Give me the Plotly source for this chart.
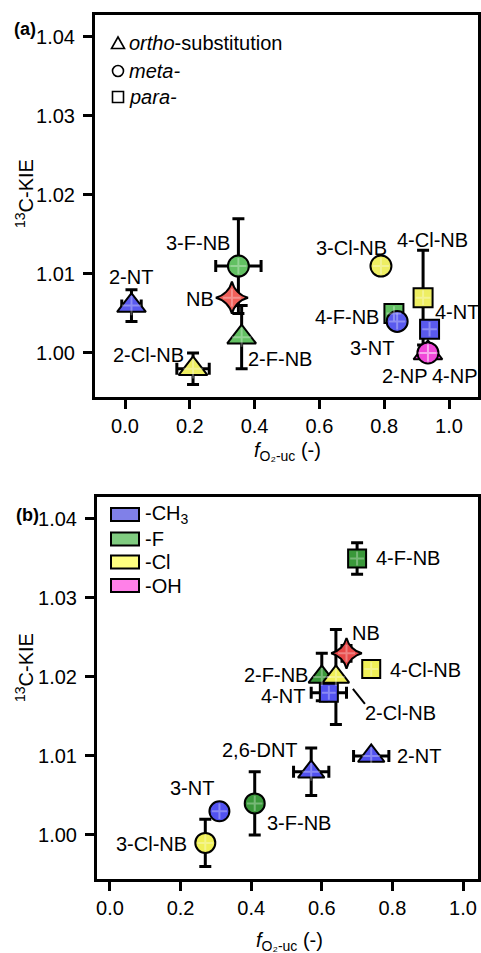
import plotly.graph_objects as go

W, H = 481, 953
FONT = "Liberation Sans, Arial, Helvetica, sans-serif"
FS = 20

# ---------------- data: panel (a) ----------------
names_a = ["2-NT", "2-Cl-NB", "3-F-NB", "2-F-NB", "NB", "3-Cl-NB",
           "4-F-NB", "3-NT", "4-Cl-NB", "4-NT", "2-NP", "4-NP"]
f_a = [0.02, 0.21, 0.35, 0.36, 0.33, 0.79, 0.83, 0.84, 0.92, 0.94, 0.935, 0.935]
kie_a = [1.006, 0.998, 1.011, 1.002, 1.007, 1.011, 1.005, 1.004, 1.007, 1.003, 1.000, 1.000]
f_err_a = [0.03, 0.05, 0.07, 0.0, 0.0, 0.0, 0.0, 0.0, 0.0, 0.0, 0.0, 0.0]
kie_err_a = [0.002, 0.002, 0.006, 0.004, 0.0, 0.0, 0.0, 0.0, 0.006, 0.0, 0.001, 0.0]
shape_a = ["ortho", "ortho", "meta", "ortho", "none", "meta",
           "para", "meta", "para", "para", "ortho", "meta"]
group_a = ["CH3", "Cl", "F", "F", "H", "Cl", "F", "CH3", "Cl", "CH3", "OH", "OH"]

# ---------------- data: panel (b) ----------------
names_b = ["4-F-NB", "2-F-NB", "2-Cl-NB", "4-NT", "NB", "4-Cl-NB",
           "2-NT", "2,6-DNT", "3-F-NB", "3-NT", "3-Cl-NB"]
f_b = [0.70, 0.60, 0.64, 0.62, 0.67, 0.74, 0.74, 0.57, 0.41, 0.31, 0.27]
kie_b = [1.035, 1.020, 1.020, 1.018, 1.023, 1.021, 1.010, 1.008, 1.004, 1.003, 0.999]
f_err_b = [0.0, 0.0, 0.0, 0.05, 0.0, 0.0, 0.05, 0.05, 0.0, 0.0, 0.0]
kie_err_b = [0.002, 0.003, 0.006, 0.001, 0.001, 0.0, 0.0, 0.003, 0.004, 0.0, 0.003]
shape_b = ["para", "ortho", "ortho", "para", "none", "para",
           "ortho", "ortho", "meta", "meta", "meta"]
group_b = ["F", "F", "Cl", "CH3", "H", "Cl", "CH3", "CH3", "F", "CH3", "Cl"]

# tick labels
x_ticks = [0.0, 0.2, 0.4, 0.6, 0.8, 1.0]
x_ticktext = ["0.0", "0.2", "0.4", "0.6", "0.8", "1.0"]
y_ticks = [1.00, 1.01, 1.02, 1.03, 1.04]
y_ticktext = ["1.00", "1.01", "1.02", "1.03", "1.04"]

legend_a = ["<i>ortho</i>-substitution", "<i>meta-</i>", "<i>para-</i>"]
legend_b = ["-CH<sub>3</sub>", "-F", "-Cl", "-OH"]

# ---------------- styles ----------------
SYMBOL = {"ortho": "triangle-up", "meta": "circle", "para": "square", "none": "star-diamond"}
SIZE_A = {"ortho": 25, "meta": 21, "para": 19, "none": 23}
SIZE_B = {"ortho": 23, "meta": 20, "para": 18, "none": 22}
COLOR_A = {"CH3": "#5A5AEE", "F": "#62C062", "Cl": "#EEEE62", "OH": "#F048D8", "H": "#F0605A"}
COLOR_B = {"CH3": "#5252F0", "F": "#3A983A", "Cl": "#F0F058", "OH": "#F048D8", "H": "#E84848"}
LEG_B_COLORS = ["#8080E8", "#80CC80", "#FFFF80", "#FF80E8"]

# label offsets (pixels, right / down) from the marker centre
OFF_A = {"2-NT": (0, -29), "3-F-NB": (-40, -23), "NB": (-32, 1), "2-Cl-NB": (-45, -14),
         "2-F-NB": (38, 22), "3-Cl-NB": (-29, -18), "4-Cl-NB": (9, -58), "4-F-NB": (-47, 4),
         "4-NT": (27, -17), "3-NT": (-25, 27), "2-NP": (-23, 23), "4-NP": (27, 23)}
OFF_B = {"4-F-NB": (51, 0), "NB": (19, -20), "2-F-NB": (-46, -2), "2-Cl-NB": (65, 36),
         "4-NT": (-46, 3), "4-Cl-NB": (54, 1), "2-NT": (48, 0), "2,6-DNT": (-51, -22),
         "3-F-NB": (44, 20), "3-NT": (-27, -23), "3-Cl-NB": (-54, 1)}


def pxx(p):
    return p / W


def pxy(p):
    return 1 - p / H


def scatter(xs, ys, exs, eys, shapes, groups, sizes, colors, xa, ya):
    return go.Scatter(
        x=xs, y=ys, mode="markers", xaxis=xa, yaxis=ya, showlegend=False,
        marker=dict(symbol=[SYMBOL[s] for s in shapes],
                    size=[sizes[s] for s in shapes],
                    color=[colors[g] for g in groups],
                    line=dict(color="black", width=2), opacity=1),
        error_x=dict(type="data", array=exs, visible=True, color="black",
                     thickness=3, width=6),
        error_y=dict(type="data", array=eys, visible=True, color="black",
                     thickness=3, width=6),
    )


def cross_overlay(xs, ys, shapes, sizes, xa, ya):
    # faint "+" pattern drawn inside every marker, as in the original figure
    return go.Scatter(
        x=xs, y=ys, mode="markers", xaxis=xa, yaxis=ya, showlegend=False, hoverinfo="skip",
        marker=dict(symbol="cross-thin", size=[sizes[s] * 0.55 for s in shapes],
                    color="rgba(0,0,0,0)",
                    line=dict(color="rgba(255,255,255,0.45)", width=2)),
    )


fig = go.Figure()
fig.add_trace(scatter(f_a, kie_a, f_err_a, kie_err_a, shape_a, group_a, SIZE_A, COLOR_A, "x", "y"))
fig.add_trace(cross_overlay(f_a, kie_a, shape_a, SIZE_A, "x", "y"))
fig.add_trace(scatter(f_b, kie_b, f_err_b, kie_err_b, shape_b, group_b, SIZE_B, COLOR_B, "x2", "y2"))
fig.add_trace(cross_overlay(f_b, kie_b, shape_b, SIZE_B, "x2", "y2"))


def xaxis(domain, rng, anchor):
    return dict(domain=domain, range=rng, anchor=anchor, tickvals=x_ticks, ticktext=x_ticktext,
                ticks="outside", ticklen=9, tickwidth=3, tickcolor="black",
                showline=True, linewidth=3, linecolor="black", mirror=True,
                showgrid=False, zeroline=False,
                tickfont=dict(family=FONT, size=FS, color="black"))


def yaxis(domain, rng, anchor):
    return dict(domain=domain, range=rng, anchor=anchor, tickvals=y_ticks, ticktext=y_ticktext,
                ticks="outside", ticklen=9, tickwidth=3, tickcolor="black",
                showline=True, linewidth=3, linecolor="black", mirror=True,
                showgrid=False, zeroline=False, ticklabelstandoff=4,
                tickfont=dict(family=FONT, size=FS, color="black"))


annotations = []
shapes = []

# data labels
for names, xs, ys, offs, xr, yr in [(names_a, f_a, kie_a, OFF_A, "x", "y"),
                                   (names_b, f_b, kie_b, OFF_B, "x2", "y2")]:
    for n, xv, yv in zip(names, xs, ys):
        dx, dy = offs[n]
        annotations.append(dict(x=xv, y=yv, xref=xr, yref=yr, text=n, showarrow=False,
                                xshift=dx, yshift=-dy,
                                font=dict(family=FONT, size=FS, color="black")))

# leader line for 2-Cl-NB in (b)
i = names_b.index("2-Cl-NB")
shapes.append(dict(type="line", xref="x2", yref="y2",
                   xsizemode="pixel", xanchor=f_b[i], x0=17, x1=29,
                   ysizemode="pixel", yanchor=kie_b[i], y0=-12, y1=-27,
                   line=dict(color="black", width=2)))

# panel letters
annotations.append(dict(x=pxx(12), y=pxy(29), xref="paper", yref="paper", text="<b>(a)</b>",
                        showarrow=False, xanchor="left", yanchor="middle",
                        font=dict(family=FONT, size=18, color="black")))
annotations.append(dict(x=pxx(14), y=pxy(515), xref="paper", yref="paper", text="<b>(b)</b>",
                        showarrow=False, xanchor="left", yanchor="middle",
                        font=dict(family=FONT, size=18, color="black")))

# axis titles
for yc in (194, 668):
    annotations.append(dict(x=pxx(24), y=pxy(yc), xref="paper", yref="paper",
                            text="<sup>13</sup>C-KIE", textangle=-90, showarrow=False,
                            xanchor="center", yanchor="middle",
                            font=dict(family=FONT, size=FS, color="black")))
for xc, yc in ((287, 452), (289, 941)):
    annotations.append(dict(x=pxx(xc), y=pxy(yc), xref="paper", yref="paper",
                            text="<i>f</i><sub>O\u2082-uc</sub> (-)", showarrow=False,
                            xanchor="center", yanchor="middle",
                            font=dict(family=FONT, size=FS, color="black")))

# legend (a): open symbols
rows_a = [43, 71, 97]
cx = 118
t = rows_a[0]
shapes.append(dict(type="path", xref="paper", yref="paper",
                   path=f"M {pxx(cx-6.5)} {pxy(t+5.5)} L {pxx(cx+6.5)} {pxy(t+5.5)} L {pxx(cx)} {pxy(t-6)} Z",
                   line=dict(color="black", width=1.6), fillcolor="white"))
c = rows_a[1]
shapes.append(dict(type="circle", xref="paper", yref="paper",
                   x0=pxx(cx-5.5), x1=pxx(cx+5.5), y0=pxy(c+5.5), y1=pxy(c-5.5),
                   line=dict(color="black", width=1.6), fillcolor="white"))
s = rows_a[2]
shapes.append(dict(type="rect", xref="paper", yref="paper",
                   x0=pxx(cx-5.5), x1=pxx(cx+5.5), y0=pxy(s+5.5), y1=pxy(s-5.5),
                   line=dict(color="black", width=1.6), fillcolor="white"))
for txt, r in zip(legend_a, rows_a):
    annotations.append(dict(x=pxx(127), y=pxy(r), xref="paper", yref="paper", text=txt,
                            showarrow=False, xanchor="left", yanchor="middle",
                            font=dict(family=FONT, size=FS, color="black")))

# legend (b): colour swatches
rows_b = [514.5, 539, 562, 585.5]
for txt, r, col in zip(legend_b, rows_b, LEG_B_COLORS):
    shapes.append(dict(type="rect", xref="paper", yref="paper",
                       x0=pxx(111), x1=pxx(139), y0=pxy(r + 6.5), y1=pxy(r - 6.5),
                       line=dict(color="black", width=2), fillcolor=col))
    annotations.append(dict(x=pxx(143), y=pxy(r), xref="paper", yref="paper", text=txt,
                            showarrow=False, xanchor="left", yanchor="middle",
                            font=dict(family=FONT, size=FS, color="black")))

fig.update_layout(
    width=W, height=H, margin=dict(l=0, r=0, t=0, b=0),
    paper_bgcolor="white", plot_bgcolor="white", showlegend=False,
    font=dict(family=FONT, size=FS, color="black"),
    xaxis=xaxis([pxx(95), pxx(478)], [-0.0926, 1.0895], "y"),
    yaxis=yaxis([pxy(397), pxy(15)], [0.99443, 1.04278], "x"),
    xaxis2=xaxis([pxx(97), pxx(478)], [-0.0368, 1.0425], "y2"),
    yaxis2=yaxis([pxy(879), pxy(497)], [0.99443, 1.04278], "x2"),
    annotations=annotations, shapes=shapes,
)

fig.write_html(
    "out.html",
    config={"displayModeBar": False},
    post_script="document.body.style.margin='0';document.body.style.padding='0';"
                "document.body.style.overflow='hidden';",
)
